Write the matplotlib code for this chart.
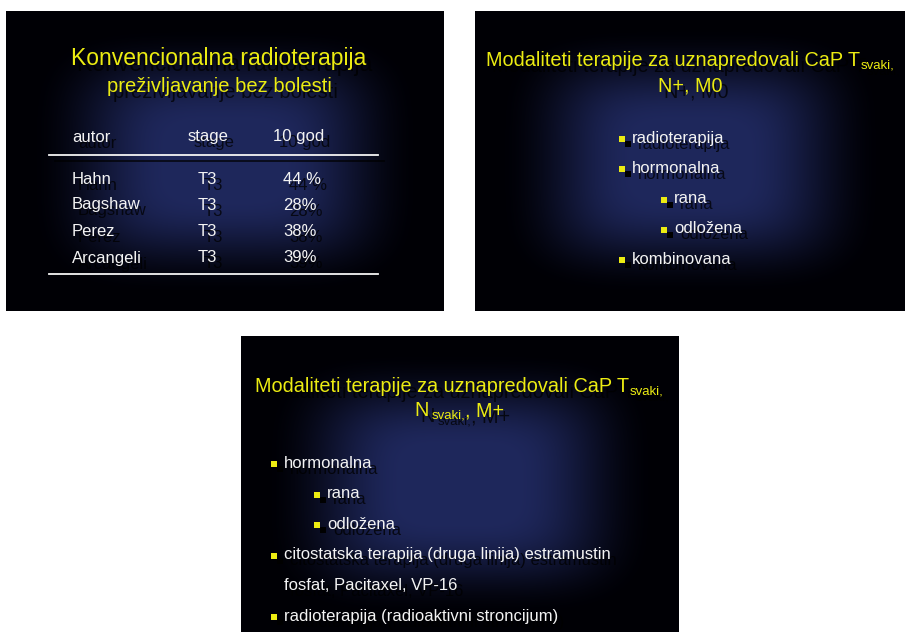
import numpy as np
import matplotlib
matplotlib.use("Agg")
import matplotlib.pyplot as plt

plt.rcParams['font.family'] = ['Liberation Sans', 'DejaVu Sans']

W, H = 905, 632

# slide boxes in pixels: left, top, right, bottom
slide_boxes = [(6, 11, 444, 311), (475, 11, 905, 311), (241, 336, 678, 632)]

# slide 1 : table
title1 = "Konvencionalna radioterapija"
subtitle1 = "preživljavanje bez bolesti"
table_header = ["autor", "stage", "10 god"]
authors = ["Hahn", "Bagshaw", "Perez", "Arcangeli"]
stages = ["T3", "T3", "T3", "T3"]
survival = ["44 %", "28%", "38%", "39%"]

# slide 2 : bullets (level, text)
title2 = ["Modaliteti terapije za uznapredovali CaP T", "svaki,"]
title2_line2 = "N+, M0"
bullets2 = [(0, "radioterapija"), (0, "hormonalna"), (1, "rana"),
            (1, "odložena"), (0, "kombinovana")]

# slide 3
title3 = ["Modaliteti terapije za uznapredovali CaP T", "svaki,"]
title3_line2 = ["N", "svaki,", ", M+"]
bullets3 = [(0, "hormonalna"), (1, "rana"), (1, "odložena"),
            (0, "citostatska terapija (druga linija) estramustin"),
            (-1, "fosfat, Pacitaxel, VP-16"),
            (0, "radioterapija (radioaktivni stroncijum)")]

YEL = '#ecec12'
WHT = '#f4f4f4'
SHD = (0, 0, 0, 0.75)
SH = 6  # shadow offset px

fig = plt.figure(figsize=(W / 100, H / 100), dpi=100)
fig.patch.set_facecolor('white')
renderer = fig.canvas.get_renderer()


def make_axes(box):
    x0, y0, x1, y1 = box
    w, h = x1 - x0, y1 - y0
    ax = fig.add_axes([x0 / W, 1 - y1 / H, w / W, h / H])
    ax.set_xlim(0, w)
    ax.set_ylim(h, 0)
    ax.axis('off')
    # rectangular gradient, navy centre to black edges
    xx, yy = np.meshgrid(np.linspace(-1, 1, w), np.linspace(-1, 1, h))
    d = (np.abs(xx) ** 4 + np.abs(yy) ** 4) ** 0.25
    t = np.clip((0.9 - d) / 0.65, 0, 1)
    t = t * t * (3 - 2 * t)
    c0 = np.array([0.0, 0.0, 0.02])
    c1 = np.array([0.12, 0.155, 0.36])
    img = c0 + t[..., None] * (c1 - c0)
    ax.imshow(img, extent=(0, w, h, 0), aspect='auto', zorder=0)
    return ax


def stext(ax, x, y, s, size, color=WHT, ha='left'):
    ax.text(x + SH, y + SH, s, fontsize=size, color=SHD, ha=ha, va='center', zorder=2)
    return ax.text(x, y, s, fontsize=size, color=color, ha=ha, va='center', zorder=3)


def pieces(ax, cx, y, parts, color=YEL):
    # parts: list of (text, size, dy, gap after); centred horizontally at cx
    objs = []
    for s, size, dy, g in parts:
        t = ax.text(0, y + dy, s, fontsize=size, color=color, ha='left', va='center', zorder=3)
        objs.append(t)
    widths = [o.get_window_extent(renderer).width for o in objs]
    total = sum(widths) + sum(p[3] for p in parts)
    x = cx - total / 2
    for o, wd, (s, size, dy, g) in zip(objs, widths, parts):
        o.set_x(x)
        ax.text(x + SH, y + dy + SH, s, fontsize=size, color=SHD, ha='left', va='center', zorder=2)
        x += wd + g


def bullets(ax, x0, y0, step, items, indent):
    for i, (lvl, s) in enumerate(items):
        y = y0 + i * step
        xb = x0 + max(lvl, 0) * indent
        if lvl >= 0:
            ax.plot(xb + SH, y + 1 + 5, marker='s', ms=4.3, color='black', mew=0, zorder=2)
            ax.plot(xb, y + 1, marker='s', ms=4.3, color=YEL, mew=0, zorder=3)
        stext(ax, xb + 10, y, s, 12)


# ---- slide 1
ax1 = make_axes(slide_boxes[0])
stext(ax1, 213, 48, title1, 16.5, YEL, ha='center')
stext(ax1, 213, 75, subtitle1, 14.5, YEL, ha='center')
col_x = [66, 182, 267]
for x, s in zip(col_x, table_header):
    stext(ax1, x, 126, s, 12)
ax1.plot([43 + SH, 372 + SH], [144 + 6, 144 + 6], color=SHD, lw=1.3, zorder=2)
ax1.plot([43, 372], [144, 144], color=WHT, lw=1.3, zorder=3)
row_y = [168, 194, 221, 247]
for y, a, st, sv in zip(row_y, authors, stages, survival):
    stext(ax1, col_x[0], y, a, 12)
    stext(ax1, 192, y, st, 12)
    stext(ax1, 277, y, sv, 12)
ax1.plot([43, 372], [263, 263], color=WHT, lw=1.3, zorder=3)

# ---- slide 2
ax2 = make_axes(slide_boxes[1])
pieces(ax2, 215, 50, [(title2[0], 14.3, 0, 1), (title2[1], 9.5, 4, 0)])
stext(ax2, 215, 75, title2_line2, 14.3, YEL, ha='center')
bullets(ax2, 147, 127, 30.3, bullets2, 42)

# ---- slide 3
ax3 = make_axes(slide_boxes[2])
pieces(ax3, 218, 51, [(title3[0], 14.3, 0, 1), (title3[1], 9.5, 4, 0)])
pieces(ax3, 218, 75, [(title3_line2[0], 14.3, 0, 3), (title3_line2[1], 9.5, 4, 0),
                      (title3_line2[2], 14.3, 0, 0)])
bullets(ax3, 33, 127, 30.6, bullets3, 43)

fig.savefig("out.png", dpi=100, facecolor='white')
